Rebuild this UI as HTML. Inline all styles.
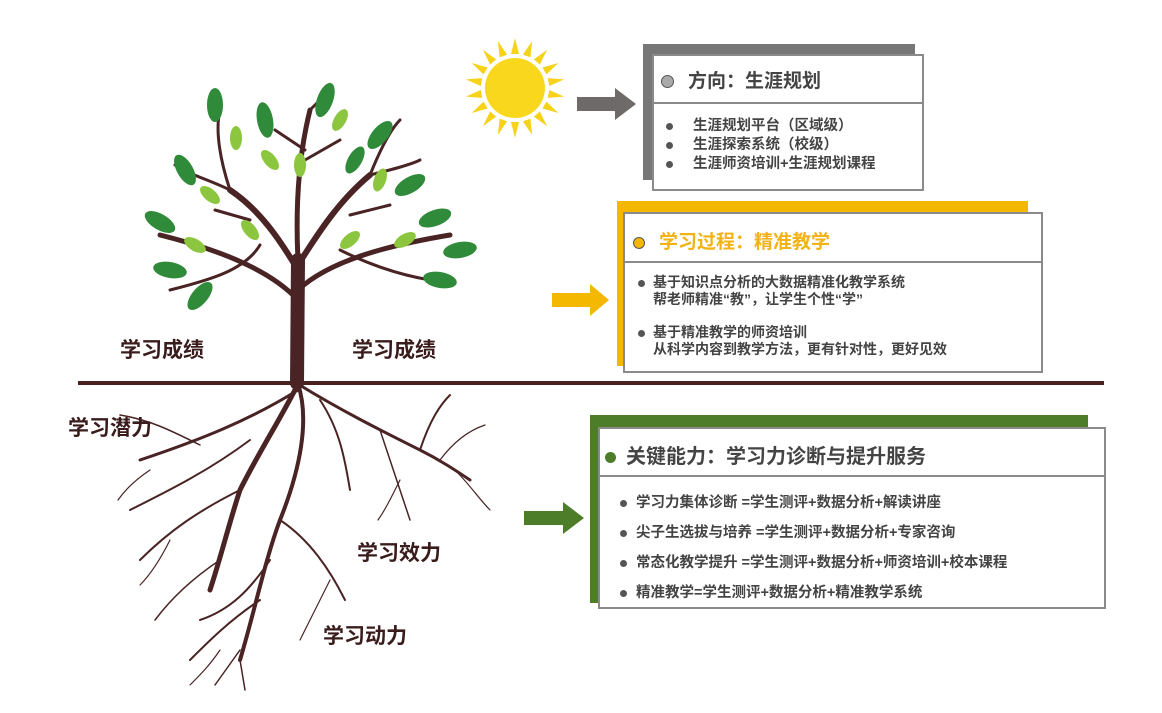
<!DOCTYPE html>
<html><head><meta charset="utf-8"><style>
body{margin:0;width:1162px;height:713px;background:#fff;overflow:hidden;position:relative;font-family:"Liberation Sans","Noto Sans CJK SC",sans-serif;}
.a{position:absolute}
.box{position:absolute;background:#fff;border:2px solid #8a8a8a;box-sizing:border-box}
.hd{position:absolute;font-weight:bold;white-space:nowrap}
.t{position:absolute;font-weight:bold;color:#444;white-space:nowrap;font-size:14px}
.dot{display:inline-block;width:7px;height:7px;border-radius:50%;background:#555;margin-right:8px;vertical-align:middle}
.lbl{position:absolute;font-weight:bold;font-size:21px;color:#3b1c1c;white-space:nowrap}
</style></head><body>
<svg class="a" style="left:0;top:0" width="1162" height="713">
<!-- sun -->
<g transform="translate(515,88)" fill="#f7d21a">
<circle r="30" fill="#f9d71c"/>
<g id="r"><polygon points="-4,-34 4,-34 0,-50"/></g>
<use href="#r" transform="rotate(20)"/><use href="#r" transform="rotate(40)"/><use href="#r" transform="rotate(60)"/><use href="#r" transform="rotate(80)"/><use href="#r" transform="rotate(100)"/><use href="#r" transform="rotate(120)"/><use href="#r" transform="rotate(140)"/><use href="#r" transform="rotate(160)"/><use href="#r" transform="rotate(180)"/><use href="#r" transform="rotate(200)"/><use href="#r" transform="rotate(220)"/><use href="#r" transform="rotate(240)"/><use href="#r" transform="rotate(260)"/><use href="#r" transform="rotate(280)"/><use href="#r" transform="rotate(300)"/><use href="#r" transform="rotate(320)"/><use href="#r" transform="rotate(340)"/>
</g>
<!-- arrows -->
<polygon points="577,97 615,97 615,88 636,104 615,120 615,111 577,111" fill="#6e6a6a"/>
<polygon points="552,293 590,293 590,284 609,300 590,316 590,307 552,307" fill="#f5b800"/>
<polygon points="524,511 563,511 563,502 584,518 563,534 563,525 524,525" fill="#4e7d2a"/>
<!-- ground -->
<rect x="78" y="381" width="1026" height="4" fill="#4a2020"/>
<!-- tree -->
<g stroke="#4a2424" fill="none" stroke-linecap="round">
<path d="M297,383 L298,260" stroke-width="14"/>
<path d="M298,270 C280,240 260,210 230,190" stroke-width="6"/>
<path d="M298,265 C320,230 340,200 370,175" stroke-width="6"/>
<path d="M298,300 C270,270 220,250 160,235" stroke-width="5"/>
<path d="M298,290 C330,260 390,245 450,235" stroke-width="5"/>
<path d="M298,260 C295,200 300,150 310,110" stroke-width="5"/>
<path d="M230,190 C220,160 215,130 220,110" stroke-width="3"/>
<path d="M230,190 C210,180 190,175 175,165" stroke-width="3"/>
<path d="M370,175 C380,150 390,130 400,120" stroke-width="3"/>
<path d="M370,175 C390,170 410,165 420,160" stroke-width="3"/>
<path d="M260,245 C245,270 210,280 170,290" stroke-width="3"/>
<path d="M340,250 C370,265 400,275 430,280" stroke-width="3"/>
<path d="M310,110 L330,90" stroke-width="3"/><path d="M305,150 L275,130" stroke-width="3"/><path d="M305,160 L340,140" stroke-width="3"/>
<path d="M250,220 L215,210" stroke-width="3"/><path d="M350,215 L390,205" stroke-width="3"/>
</g>
<g fill="#2f8a3a">
<ellipse cx="325" cy="100" rx="8" ry="18" transform="rotate(20 325 100)"/>
<ellipse cx="265" cy="120" rx="8" ry="18" transform="rotate(-10 265 120)"/>
<ellipse cx="215" cy="105" rx="8" ry="17"/>
<ellipse cx="185" cy="170" rx="8" ry="17" transform="rotate(-30 185 170)"/>
<ellipse cx="160" cy="222" rx="8" ry="17" transform="rotate(-60 160 222)"/>
<ellipse cx="170" cy="270" rx="8" ry="17" transform="rotate(-80 170 270)"/>
<ellipse cx="200" cy="296" rx="8" ry="17" transform="rotate(40 200 296)"/>
<ellipse cx="380" cy="135" rx="8" ry="17" transform="rotate(40 380 135)"/>
<ellipse cx="410" cy="185" rx="8" ry="17" transform="rotate(60 410 185)"/>
<ellipse cx="435" cy="218" rx="8" ry="17" transform="rotate(70 435 218)"/>
<ellipse cx="460" cy="250" rx="8" ry="17" transform="rotate(80 460 250)"/>
<ellipse cx="440" cy="280" rx="8" ry="17" transform="rotate(100 440 280)"/>
<ellipse cx="355" cy="160" rx="7" ry="15" transform="rotate(30 355 160)"/>
</g>
<g fill="#8cc63f">
<ellipse cx="236" cy="138" rx="6" ry="12"/><ellipse cx="270" cy="160" rx="6" ry="12" transform="rotate(-40 270 160)"/>
<ellipse cx="300" cy="165" rx="6" ry="12"/><ellipse cx="340" cy="120" rx="6" ry="12" transform="rotate(30 340 120)"/>
<ellipse cx="210" cy="195" rx="6" ry="12" transform="rotate(-50 210 195)"/><ellipse cx="380" cy="180" rx="6" ry="12" transform="rotate(20 380 180)"/>
<ellipse cx="250" cy="230" rx="6" ry="12" transform="rotate(-40 250 230)"/><ellipse cx="350" cy="240" rx="6" ry="12" transform="rotate(50 350 240)"/>
<ellipse cx="405" cy="240" rx="6" ry="12" transform="rotate(60 405 240)"/><ellipse cx="195" cy="245" rx="6" ry="12" transform="rotate(-60 195 245)"/>
</g>
<!-- roots -->
<g stroke="#4a2424" fill="none" stroke-linecap="round">
<path d="M298,384 C280,420 260,450 240,490 C230,520 220,560 210,590" stroke-width="5"/>
<path d="M298,384 C310,420 300,470 280,520 C265,560 255,610 240,660" stroke-width="4"/>
<path d="M298,384 C340,410 380,430 420,450 C440,460 455,470 470,480" stroke-width="3"/>
<path d="M298,390 C250,420 200,440 140,460" stroke-width="3"/>
<path d="M250,440 C210,470 170,490 130,510" stroke-width="2"/>
<path d="M240,490 C200,510 170,530 140,560" stroke-width="2"/>
<path d="M280,520 C310,540 330,570 345,600" stroke-width="2"/>
<path d="M260,600 C230,620 210,640 190,660" stroke-width="2"/>
<path d="M270,560 C250,590 230,610 200,620" stroke-width="2"/>
<path d="M420,450 C430,420 440,405 450,395" stroke-width="2"/>
<path d="M380,430 C390,460 400,490 410,520" stroke-width="1.5"/>
<path d="M320,400 C340,430 345,460 350,490" stroke-width="2"/>
<path d="M200,445 C170,430 150,420 120,415" stroke-width="1.5"/>
<path d="M220,560 C190,580 170,600 155,620" stroke-width="1.5"/>
<path d="M240,660 L245,690" stroke-width="1.5"/><path d="M240,650 L215,685" stroke-width="1.5"/>
<path d="M440,460 C455,440 470,430 485,425" stroke-width="1.2"/><path d="M455,470 C470,485 480,500 490,510" stroke-width="1.2"/>
<path d="M400,480 C390,500 385,510 378,520" stroke-width="1.2"/><path d="M150,470 C135,480 125,490 118,500" stroke-width="1.2"/>
<path d="M170,540 C160,560 150,575 140,585" stroke-width="1.2"/><path d="M330,580 C320,600 310,620 300,640" stroke-width="1.2"/>
<path d="M220,650 C210,665 200,675 190,685" stroke-width="1.2"/>
</g>
</svg>
<div class="lbl" style="left:120px;top:334px">学习成绩</div>
<div class="lbl" style="left:352px;top:334px">学习成绩</div>
<div class="lbl" style="left:68px;top:412px">学习潜力</div>
<div class="lbl" style="left:357px;top:537px">学习效力</div>
<div class="lbl" style="left:323px;top:620px">学习动力</div>

<!-- box1 -->
<div class="a" style="left:643px;top:44px;width:272px;height:136px;background:#777"></div>
<div class="box" style="left:652px;top:54px;width:272px;height:50px"></div>
<div class="box" style="left:652px;top:102px;width:272px;height:89px"></div>
<div class="hd" style="left:661px;top:66px;font-size:19px;color:#444"><span class="dot" style="width:11px;height:11px;background:#aaa;border:1.5px solid #555;margin-right:14px"></span>方向：生涯规划</div>
<div class="t" style="left:666px;top:117px;line-height:19px;font-size:14.5px">
<div><span class="dot" style="margin-right:20px"></span>生涯规划平台（区域级）</div>
<div><span class="dot" style="margin-right:20px"></span>生涯探索系统（校级）</div>
<div><span class="dot" style="margin-right:20px"></span>生涯师资培训+生涯规划课程</div></div>

<!-- box2 -->
<div class="a" style="left:617px;top:201px;width:411px;height:165px;background:#f5b800"></div>
<div class="box" style="left:623px;top:212px;width:420px;height:51px"></div>
<div class="box" style="left:623px;top:261px;width:420px;height:112px"></div>
<div class="hd" style="left:633px;top:227px;font-size:19px;color:#f3b316"><span class="dot" style="width:10px;height:10px;background:#f5b800;border:1.5px solid #555;margin-right:14px"></span>学习过程：精准教学</div>
<div class="t" style="left:638px;top:274px;line-height:17px">
<div><span class="dot"></span>基于知识点分析的大数据精准化教学系统</div>
<div style="padding-left:15px">帮老师精准“教”，让学生个性“学”</div>
<div style="margin-top:16px"><span class="dot"></span>基于精准教学的师资培训</div>
<div style="padding-left:15px">从科学内容到教学方法，更有针对性，更好见效</div></div>

<!-- box3 -->
<div class="a" style="left:590px;top:415px;width:498px;height:188px;background:#4e7d2a"></div>
<div class="box" style="left:598px;top:427px;width:508px;height:50px"></div>
<div class="box" style="left:598px;top:475px;width:508px;height:134px"></div>
<div class="hd" style="left:605px;top:440px;font-size:20px;color:#444"><span class="dot" style="width:11px;height:11px;background:#4e7d2a;margin-right:10px"></span>关键能力：学习力诊断与提升服务</div>
<div class="t" style="left:620px;top:488px;line-height:30px;font-size:14.5px">
<div><span class="dot" style="margin-right:9px"></span>学习力集体诊断 =学生测评+数据分析+解读讲座</div>
<div><span class="dot" style="margin-right:9px"></span>尖子生选拔与培养 =学生测评+数据分析+专家咨询</div>
<div><span class="dot" style="margin-right:9px"></span>常态化教学提升 =学生测评+数据分析+师资培训+校本课程</div>
<div><span class="dot" style="margin-right:9px"></span>精准教学=学生测评+数据分析+精准教学系统</div></div>
</body></html>
